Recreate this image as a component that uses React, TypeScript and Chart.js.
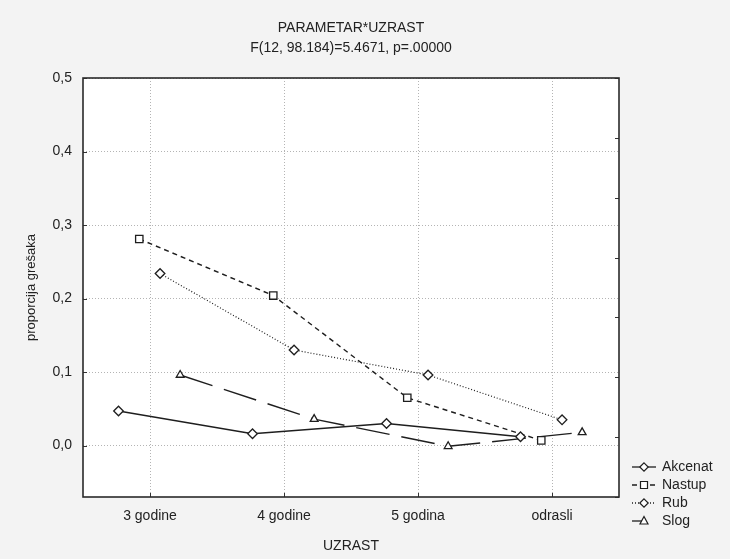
import React, { useEffect, useRef } from 'react';
import { Chart, registerables } from 'chart.js';

Chart.register(...registerables);

// ---- data ----
const categories = ['3 godine', '4 godine', '5 godina', 'odrasli'];
const seriesNames = ['Akcenat', 'Nastup', 'Rub', 'Slog'];
const akcenat = [0.047, 0.016, 0.030, 0.012];
const nastup = [0.281, 0.204, 0.065, 0.007];
const rub = [0.234, 0.130, 0.096, 0.035];
const slog = [0.096, 0.036, -0.001, 0.018];
// horizontal jitter of each series around its category (category units)
const seriesOffsets = [-0.235, -0.08, 0.075, 0.225];
const yTicks = [0, 0.1, 0.2, 0.3, 0.4, 0.5];
const rightTicks = [0, 1, 2, 3, 4, 5, 6, 7];
const titleText = 'PARAMETAR*UZRAST';
const subtitleText = 'F(12, 98.184)=5.4671, p=.00000';
const xTitle = 'UZRAST';
const yTitle = 'proporcija grešaka';

// ---- styles ----
const FONT = '"Liberation Sans", Arial, sans-serif';
const INK = '#1e1e1e';
const TEXT = '#222222';
const GRID = '#b4b4b4';
const seriesValues = [akcenat, nastup, rub, slog];
const pointStyles = ['rectRot', 'rect', 'rectRot', 'triangle'];
const pointRadii = [4.8, 5.2, 4.8, 4.5];
const lineDashes = [[], [5, 4], [1, 2], [34, 12]];
const legendDashes = [[], [5, 4], [1, 2], [10, 40]];

function drawMarker(ctx, style, x, y) {
  ctx.beginPath();
  if (style === 'rect') {
    ctx.rect(x - 3.5, y - 3.5, 7, 7);
  } else if (style === 'triangle') {
    ctx.moveTo(x, y - 4.5);
    ctx.lineTo(x + 4, y + 3);
    ctx.lineTo(x - 4, y + 3);
    ctx.closePath();
  } else {
    ctx.moveTo(x, y - 4.2);
    ctx.lineTo(x + 4.2, y);
    ctx.lineTo(x, y + 4.2);
    ctx.lineTo(x - 4.2, y);
    ctx.closePath();
  }
  ctx.fillStyle = '#fff';
  ctx.fill();
  ctx.stroke();
}

const decorPlugin = {
  id: 'decor',
  beforeDraw(chart) {
    const { ctx, chartArea: a, width, height } = chart;
    ctx.save();
    ctx.fillStyle = '#f3f3f3';
    ctx.fillRect(0, 0, width, height);
    ctx.fillStyle = '#ffffff';
    ctx.fillRect(a.left, a.top, a.right - a.left, a.bottom - a.top);
    ctx.restore();
  },
  beforeDatasetsDraw(chart) {
    const { ctx, chartArea: a, scales } = chart;
    ctx.save();
    ctx.strokeStyle = '#333';
    ctx.lineWidth = 1;
    ctx.beginPath();
    scales.x.ticks.forEach((t) => {
      const px = Math.round(scales.x.getPixelForValue(t.value)) + 0.5;
      ctx.moveTo(px, a.bottom);
      ctx.lineTo(px, a.bottom - 4);
    });
    scales.y.ticks.forEach((t) => {
      const py = Math.round(scales.y.getPixelForValue(t.value)) + 0.5;
      ctx.moveTo(a.left, py);
      ctx.lineTo(a.left + 4, py);
    });
    scales.y2.ticks.forEach((t) => {
      const py = Math.round(scales.y2.getPixelForValue(t.value)) + 0.5;
      ctx.moveTo(a.right, py);
      ctx.lineTo(a.right - 4, py);
    });
    ctx.stroke();
    ctx.lineWidth = 1.6;
    ctx.strokeStyle = '#2a2a2a';
    ctx.strokeRect(a.left, a.top, a.right - a.left, a.bottom - a.top);
    ctx.restore();
  },
  afterDraw(chart) {
    const { ctx, chartArea: a } = chart;
    ctx.save();
    const cx = (a.left + a.right) / 2;
    ctx.fillStyle = TEXT;
    ctx.textAlign = 'center';
    ctx.textBaseline = 'middle';
    ctx.font = `14px ${FONT}`;
    ctx.fillText(titleText, cx, 28);
    ctx.fillText(subtitleText, cx, 48);

    // legend
    const lx = a.right + 13;
    const ly0 = a.bottom - 30;
    const dy = 18;
    seriesNames.forEach((name, i) => {
      const y = ly0 + i * dy;
      ctx.strokeStyle = INK;
      ctx.lineWidth = 1.3;
      ctx.setLineDash(legendDashes[i]);
      ctx.beginPath();
      ctx.moveTo(lx, y);
      ctx.lineTo(lx + 24, y);
      ctx.stroke();
      ctx.setLineDash([]);
      ctx.lineWidth = 1.2;
      drawMarker(ctx, pointStyles[i], lx + 12, y);
      ctx.fillStyle = TEXT;
      ctx.textAlign = 'left';
      ctx.textBaseline = 'middle';
      ctx.font = `14px ${FONT}`;
      ctx.fillText(name, lx + 30, y);
    });
    ctx.restore();
  },
};

export default function App() {
  const canvasRef = useRef(null);

  useEffect(() => {
    const datasets = seriesValues.map((vals, s) => ({
      label: seriesNames[s],
      data: vals.map((v, c) => ({ x: c + 1 + seriesOffsets[s], y: v })),
      borderColor: INK,
      borderWidth: s === 2 ? 1.2 : 1.4,
      borderDash: lineDashes[s],
      pointStyle: pointStyles[s],
      pointRadius: pointRadii[s],
      pointBackgroundColor: '#ffffff',
      pointBorderColor: INK,
      pointBorderWidth: 1.3,
      fill: false,
      tension: 0,
    }));

    const chart = new Chart(canvasRef.current, {
      type: 'line',
      data: { datasets },
      plugins: [decorPlugin],
      options: {
        animation: false,
        responsive: false,
        layout: { padding: { top: 78, right: 111, bottom: 0, left: 0 } },
        plugins: {
          legend: { display: false },
          tooltip: { enabled: false },
          title: { display: false },
        },
        scales: {
          x: {
            type: 'linear',
            min: 0.5,
            max: 4.5,
            afterBuildTicks: (s) => {
              s.ticks = categories.map((_, i) => ({ value: i + 1 }));
            },
            afterFit: (s) => {
              s.height = 62;
            },
            grid: { color: GRID, lineWidth: 1, drawTicks: false },
            border: { display: false, dash: [1, 2] },
            ticks: {
              padding: 11,
              color: TEXT,
              autoSkip: false,
              maxRotation: 0,
              font: { family: FONT, size: 14 },
              callback: (v) => categories[Math.round(Number(v)) - 1] ?? '',
            },
            title: {
              display: true,
              text: xTitle,
              color: TEXT,
              font: { family: FONT, size: 14 },
              padding: { top: 0, bottom: 4 },
            },
          },
          y: {
            type: 'linear',
            min: -0.07,
            max: 0.5,
            afterBuildTicks: (s) => {
              s.ticks = yTicks.map((v) => ({ value: v }));
            },
            afterFit: (s) => {
              s.width = 83;
            },
            grid: { color: GRID, lineWidth: 1, drawTicks: false },
            border: { display: false, dash: [1, 2] },
            ticks: {
              padding: 11,
              color: TEXT,
              font: { family: FONT, size: 14 },
              callback: (v) => Number(v).toFixed(1).replace('.', ','),
            },
            title: {
              display: true,
              text: yTitle,
              color: TEXT,
              font: { family: FONT, size: 13 },
              padding: { top: 24, bottom: 0 },
            },
          },
          y2: {
            type: 'linear',
            position: 'right',
            min: 0,
            max: 7,
            afterBuildTicks: (s) => {
              s.ticks = rightTicks.map((v) => ({ value: v }));
            },
            afterFit: (s) => {
              s.width = 0;
            },
            grid: { display: false, drawTicks: false },
            border: { display: false },
            ticks: { display: false },
          },
        },
      },
    });
    return () => chart.destroy();
  }, []);

  return (
    <div
      style={{
        position: 'absolute',
        left: 0,
        top: 0,
        width: 730,
        height: 559,
        background: '#f3f3f3',
      }}
    >
      <canvas ref={canvasRef} width={730} height={559} />
    </div>
  );
}
